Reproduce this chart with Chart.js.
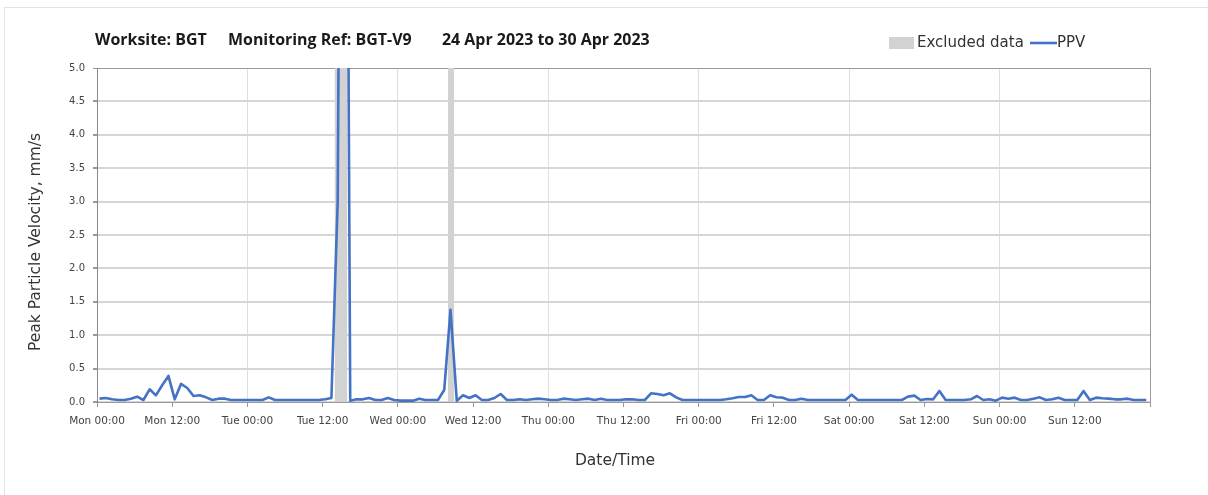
<!DOCTYPE html>
<html>
<head>
<meta charset="utf-8">
<script src="https://cdn.jsdelivr.net/npm/chart.js@4.4.0/dist/chart.umd.min.js"></script>
<style>
  html, body { margin: 0; padding: 0; background: #fff; }
  #wrap { position: relative; width: 1208px; height: 495px; overflow: hidden; }
  #frame { position: absolute; left: 4px; top: 7px; right: 0; bottom: 0;
           border-left: 1px solid #e2e2e2; border-top: 1px solid #e2e2e2; }
  canvas { position: absolute; left: 0; top: 0; }
</style>
</head>
<body>
<div id="wrap">
  <div id="frame"></div>
  <canvas id="c" width="1208" height="495"></canvas>
</div>
<script>
// Hourly PPV readings (mm/s), Mon 24 Apr 00:24 onwards
const ppv = [
  0.05, 0.06, 0.04, 0.03, 0.03, 0.05, 0.08, 0.03, 0.19, 0.10, 0.25, 0.39,
  0.04, 0.27, 0.21, 0.09, 0.10, 0.07, 0.03, 0.05, 0.05, 0.03, 0.03, 0.03,
  0.03, 0.03, 0.03, 0.07, 0.03, 0.03, 0.03, 0.03, 0.03, 0.03, 0.03, 0.03,
  0.04, 0.06, 3.00, 18.5, 0.02, 0.04, 0.04, 0.06, 0.03, 0.03, 0.06, 0.03,
  0.02, 0.02, 0.02, 0.05, 0.03, 0.03, 0.03, 0.18, 1.38, 0.02, 0.10, 0.06,
  0.10, 0.03, 0.03, 0.06, 0.12, 0.03, 0.03, 0.04, 0.03, 0.04, 0.05, 0.04,
  0.03, 0.03, 0.05, 0.04, 0.03, 0.04, 0.05, 0.03, 0.05, 0.03, 0.03, 0.03,
  0.04, 0.04, 0.03, 0.03, 0.13, 0.12, 0.10, 0.13, 0.07, 0.03, 0.03, 0.03,
  0.03, 0.03, 0.03, 0.03, 0.04, 0.055, 0.075, 0.075, 0.10, 0.03, 0.03, 0.10,
  0.07, 0.065, 0.03, 0.03, 0.05, 0.03, 0.03, 0.03, 0.03, 0.03, 0.03, 0.03,
  0.11, 0.03, 0.03, 0.03, 0.03, 0.03, 0.03, 0.03, 0.03, 0.08, 0.095, 0.03,
  0.045, 0.04, 0.165, 0.03, 0.03, 0.03, 0.03, 0.04, 0.09, 0.03, 0.04, 0.02,
  0.065, 0.05, 0.065, 0.03, 0.03, 0.05, 0.07, 0.03, 0.04, 0.065, 0.03, 0.03,
  0.03, 0.165, 0.03, 0.065, 0.055, 0.05, 0.04, 0.04, 0.05, 0.03, 0.03, 0.03
];
// Readings are logged at 24 minutes past each hour
const sampleOffsetHours = 0.4;

// Excluded-data windows, hours from Mon 00:00
const excludedStart = [37.9, 56.0];
const excludedEnd   = [39.9, 57.0];

// Axis ticks
const xTickHours  = [0, 12, 24, 36, 48, 60, 72, 84, 96, 108, 120, 132, 144, 156, 168];
const xTickLabels = ['Mon 00:00', 'Mon 12:00', 'Tue 00:00', 'Tue 12:00', 'Wed 00:00', 'Wed 12:00',
                     'Thu 00:00', 'Thu 12:00', 'Fri 00:00', 'Fri 12:00', 'Sat 00:00', 'Sat 12:00',
                     'Sun 00:00', 'Sun 12:00', ''];
const yTicks = [0, 0.5, 1, 1.5, 2, 2.5, 3, 3.5, 4, 4.5, 5];
const yMax = 5;

const titleParts = ['Worksite: BGT', 'Monitoring Ref: BGT-V9', '24 Apr 2023 to 30 Apr 2023'];
const xAxisTitle = 'Date/Time';
const yAxisTitle = 'Peak Particle Velocity, mm/s';

const PPV_BLUE = '#4472C4';
const EXCL_GREY = '#d2d2d2';
const UI_FONT = '"DejaVu Sans", "Open Sans", sans-serif';

const ppvPoints = ppv.map((v, i) => ({ x: i + sampleOffsetHours, y: v }));

// Each excluded window becomes a full-height block filled down to zero
const bandPoints = [];
excludedStart.forEach((s, i) => {
  const e = excludedEnd[i];
  bandPoints.push({ x: s, y: 0 }, { x: s, y: yMax }, { x: e, y: yMax }, { x: e, y: 0 });
});

// Header, legend and axis titles drawn on top of the chart
const decorations = {
  id: 'decorations',
  afterDraw(chart) {
    const ctx = chart.ctx;
    ctx.save();
    ctx.textBaseline = 'middle';
    ctx.textAlign = 'left';

    // title: three parts set out along the top, sized to span 95..645
    const starts = [95, 228, 442];
    const span = [116, 192, 203];
    ctx.font = 'bold 15px "Open Sans", sans-serif';
    const measured = titleParts.reduce((a, t) => a + ctx.measureText(t).width, 0);
    const size = 15 * span.reduce((a, b) => a + b, 0) / measured * 0.985;
    ctx.font = 'bold ' + size.toFixed(2) + 'px "Open Sans", sans-serif';
    ctx.fillStyle = '#1a1a1a';
    titleParts.forEach((t, i) => ctx.fillText(t, starts[i], 40));

    // legend
    const ly = 43;
    ctx.font = '15px ' + UI_FONT;
    ctx.fillStyle = EXCL_GREY;
    ctx.fillRect(889, ly - 6, 25, 12);
    ctx.fillStyle = '#333';
    ctx.fillText(chart.data.datasets[0].label, 917, ly);
    ctx.strokeStyle = PPV_BLUE;
    ctx.lineWidth = 2.6;
    ctx.beginPath();
    ctx.moveTo(1030, ly);
    ctx.lineTo(1057, ly);
    ctx.stroke();
    ctx.fillText(chart.data.datasets[1].label, 1057, ly);

    // axis titles
    ctx.fillStyle = '#333';
    ctx.textAlign = 'center';
    ctx.font = '15.5px ' + UI_FONT;
    ctx.fillText(xAxisTitle, 615, 461);
    ctx.translate(36, 242);
    ctx.rotate(-Math.PI / 2);
    ctx.font = '15.5px ' + UI_FONT;
    ctx.fillText(yAxisTitle, 0, 0);
    ctx.restore();
  }
};

new Chart(document.getElementById('c'), {
  type: 'line',
  data: {
    datasets: [
      {
        label: 'Excluded data',
        data: bandPoints,
        fill: 'origin',
        backgroundColor: EXCL_GREY,
        borderWidth: 0,
        pointRadius: 0,
        tension: 0,
        order: 2
      },
      {
        label: 'PPV',
        data: ppvPoints,
        borderColor: PPV_BLUE,
        borderWidth: 2.6,
        pointRadius: 0,
        fill: false,
        tension: 0,
        borderJoinStyle: 'round',
        order: 1
      }
    ]
  },
  options: {
    responsive: false,
    animation: false,
    events: [],
    layout: { padding: { left: 0, right: 58, top: 68, bottom: 23 } },
    plugins: {
      legend: { display: false },
      tooltip: { enabled: false },
      title: { display: false }
    },
    scales: {
      x: {
        type: 'linear',
        min: 0,
        max: 168,
        afterBuildTicks: s => { s.ticks = xTickHours.map(v => ({ value: v })); },
        afterFit: s => { s.height = 70; },
        ticks: {
          autoSkip: false,
          maxRotation: 0,
          padding: 8,
          color: '#444',
          font: { family: UI_FONT, size: 10.5 },
          callback: (v, i) => xTickLabels[i]
        },
        grid: {
          color: c => (c.tick && c.tick.value % 24 === 0)
            ? (c.tick.value === 168 ? '#9a9a9a' : '#dedede') : 'rgba(0,0,0,0)',
          tickColor: '#999',
          tickLength: 5,
          lineWidth: 1
        },
        border: { color: '#999', width: 1 }
      },
      y: {
        min: 0,
        max: yMax,
        afterBuildTicks: s => { s.ticks = yTicks.map(v => ({ value: v })); },
        afterFit: s => { s.width = 97; },
        ticks: {
          padding: 8,
          color: '#444',
          font: { family: UI_FONT, size: 10 },
          callback: v => Number(v).toFixed(1)
        },
        grid: {
          color: c => (c.tick && c.tick.value === yMax) ? '#9a9a9a' : '#d6d6d6',
          lineWidth: c => (c.tick && c.tick.value === yMax) ? 1 : 2,
          tickColor: '#999',
          tickLength: 4
        },
        border: { color: '#888', width: 1 }
      }
    }
  },
  plugins: [decorations]
});
</script>
</body>
</html>
